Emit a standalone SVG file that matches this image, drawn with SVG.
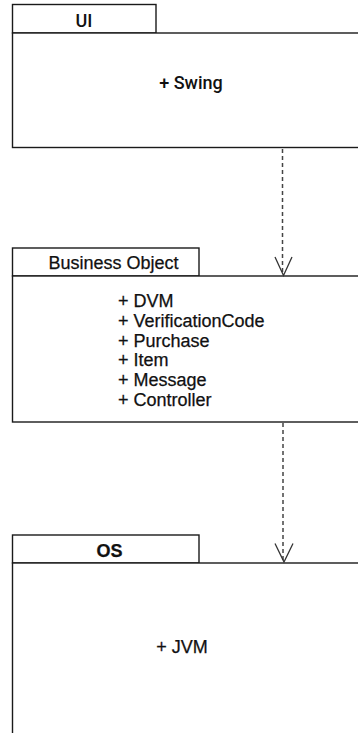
<svg xmlns="http://www.w3.org/2000/svg" width="358" height="733" viewBox="0 0 358 733">
<style>
.box{fill:#fff;stroke:#1a1a1a;stroke-width:1.4}
.t{font-family:"Liberation Sans",Arial,sans-serif;font-size:18px;fill:#111;stroke:#111;stroke-width:0.25}
.r{font-family:Roboto,"Liberation Sans",sans-serif;font-size:18px;fill:#111;font-weight:500}
.dep{fill:none;stroke:#444;stroke-width:1.5;stroke-dasharray:4 3}
.head{fill:none;stroke:#333;stroke-width:1.3}
</style>
<rect width="358" height="733" fill="#fff"/>
<g id="ui">
<rect class="box" x="12.5" y="4.5" width="143.5" height="28.5"/>
<rect class="box" x="12.5" y="33" width="360" height="114.5"/>
<text class="r" x="84" y="27" text-anchor="middle">UI</text>
<text class="r" x="191" y="89" text-anchor="middle">+ Swing</text>
</g>
<g id="business">
<rect class="box" x="12.5" y="248" width="186.5" height="28"/>
<rect class="box" x="12.5" y="276" width="360" height="146"/>
<text class="t" x="113.5" y="269" text-anchor="middle">Business Object</text>
<text class="t" x="118" y="306.5">+ DVM</text>
<text class="t" x="118" y="326.5">+ VerificationCode</text>
<text class="t" x="118" y="346.5">+ Purchase</text>
<text class="t" x="118" y="366">+ Item</text>
<text class="t" x="118" y="386">+ Message</text>
<text class="t" x="118" y="406">+ Controller</text>
</g>
<g id="os">
<rect class="box" x="12.5" y="535" width="186.5" height="28"/>
<rect class="box" x="12.5" y="563" width="360" height="200"/>
<text class="t" x="109.5" y="556.5" text-anchor="middle" font-weight="bold">OS</text>
<text class="t" x="182" y="653" text-anchor="middle">+ JVM</text>
</g>
<g id="connectors">
<path class="dep" d="M282.5 149 V274"/>
<path class="head" d="M275 257 L283.5 275.5 L292 257"/>
<path class="dep" d="M283 423 V561"/>
<path class="head" d="M275 543.5 L284 562 L293 543.5"/>
</g>
</svg>
